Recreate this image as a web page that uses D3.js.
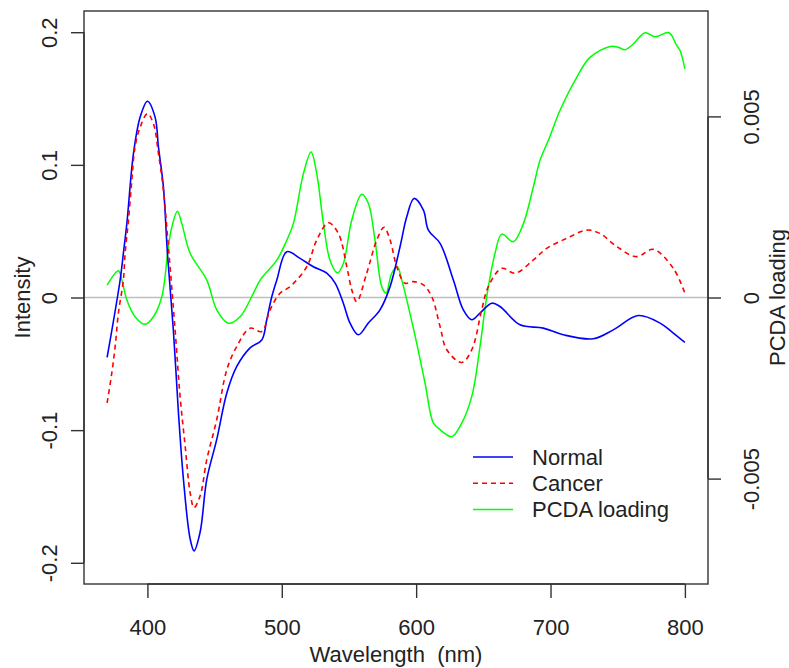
<!DOCTYPE html>
<html>
<head>
<meta charset="utf-8">
<script src="https://cdn.jsdelivr.net/npm/d3@7"></script>
<style>
  body { margin: 0; background: #fff; }
  svg text { font-family: "Liberation Sans", Arial, sans-serif; fill: #222; }
</style>
</head>
<body>
<svg></svg>
<script>
// ---- data ----
var normalWl  = [370,379.7,382.1,384.7,389.6,394.6,400,405.7,408.2,411.9,414.9,419.3,423.1,426.8,431.8,434.7,439.2,444.2,451.6,459.1,466.5,476.4,485.1,488.8,492.6,496.3,503.7,513.6,523.5,533.5,539.7,545.8,550.8,557,564.4,573.1,580.6,588,593,598.4,605.4,609.1,617.8,627.7,635.1,641.4,647.5,656.3,662.4,677.3,694.6,709.5,731.8,746.7,765.3,781.5,791.4,800];
var normalVal = [-0.0452,0.0132,0.0333,0.0559,0.1085,0.136,0.148,0.136,0.1135,0.0834,0.0333,-0.0245,-0.087,-0.137,-0.182,-0.191,-0.177,-0.137,-0.107,-0.072,-0.052,-0.038,-0.032,-0.0168,0.0007,0.0132,0.0345,0.0295,0.0232,0.0183,0.0108,-0.0043,-0.0193,-0.0281,-0.0193,-0.0093,0.0082,0.0383,0.0608,0.0747,0.0659,0.0508,0.0408,0.0132,-0.0093,-0.0168,-0.0118,-0.0043,-0.0068,-0.0206,-0.0231,-0.0281,-0.0311,-0.0244,-0.0136,-0.0193,-0.0268,-0.0339];

var cancerWl  = [370,373.5,376,378.4,382.1,383.4,385.9,388.4,390.8,394.6,400,404.5,408.2,411.9,415.6,420.6,424.3,428.1,431.8,434.7,439.2,444.2,451.6,459.1,466.5,476.4,485.1,491.3,498.7,506.2,518.6,526,534.7,542.1,548.4,552.1,555.8,563.2,570.7,576.1,580.6,585.6,591.7,597.9,605.4,611.6,617.8,622.8,633.9,641.4,648.8,653.7,663.7,673.6,687.2,697.2,712.1,726.9,736.8,749.3,764.1,776.5,791.4,800];
var cancerVal = [-0.0795,-0.0569,-0.0369,-0.0118,0.0132,0.0333,0.0583,0.0884,0.1135,0.1285,0.1386,0.131,0.1085,0.0809,0.0383,-0.0244,-0.0745,-0.1121,-0.1471,-0.1584,-0.1497,-0.1221,-0.092,-0.0544,-0.0369,-0.0231,-0.0256,-0.0093,0.0032,0.0082,0.0232,0.0433,0.0563,0.0483,0.0232,0.0057,-0.0031,0.0183,0.0433,0.0529,0.0433,0.0232,0.0108,0.012,0.0095,0.0007,-0.0219,-0.0394,-0.049,-0.0394,-0.0093,0.0082,0.022,0.0183,0.0283,0.0371,0.0446,0.0508,0.0483,0.0383,0.0308,0.0363,0.022,0.0032];

var loadingWl  = [370,378.4,381,384.7,390.8,398.3,404.5,410.7,415.6,418.2,422.3,425.6,431.8,444.2,451.6,460.3,469,478.9,483.9,496.3,503.7,508.6,516.1,521.8,526,531,535.9,541.4,545.8,552.1,559.5,564.4,569.4,574.4,577.6,581.8,586,589.3,594.2,600.4,606.6,612.8,617.8,626.5,633.9,641.4,647.5,652.5,658.7,663.7,672.3,679.8,687.2,692.2,698.4,707.1,719.5,729.4,744.3,750.4,755.4,761.6,770.3,777.8,788.2,793.9,796.4,800];
var loadingVal = [0.00034,0.00074,0.00048,-0.00007,-0.00053,-0.00074,-0.00053,0.00002,0.0014,0.00195,0.00238,0.00204,0.00122,0.00048,-0.00034,-0.00071,-0.00053,0.00012,0.00048,0.00103,0.00158,0.00204,0.00342,0.00402,0.00342,0.00204,0.00103,0.00068,0.00094,0.00214,0.00285,0.0026,0.00158,0.0003,0.00012,0.00067,0.00085,0.00048,-0.00025,-0.00126,-0.00236,-0.00346,-0.00365,-0.00384,-0.00347,-0.00273,-0.00136,0.00002,0.00122,0.00175,0.00154,0.00204,0.00305,0.00379,0.00434,0.00517,0.00608,0.00663,0.00693,0.00691,0.00684,0.007,0.00731,0.0072,0.00731,0.00696,0.00682,0.00631];

var xTicks = [400,500,600,700,800];
var yTicks = [-0.2,-0.1,0,0.1,0.2];
var yTickLabels = ["-0.2","-0.1","0","0.1","0.2"];
var rTicks = [-0.005,0,0.005];
var rTickLabels = ["-0.005","0","0.005"];

var legendNames = ["Normal","Cancer","PCDA loading"];

// ---- layout ----
var screen = {width:789, height:668};
var box = {left:84, right:708, top:11, bottom:584};

var svg = d3.select("svg")
    .attr("width",screen.width)
    .attr("height",screen.height);

var xScale = d3.scaleLinear()
    .domain([352.8,817.2])
    .range([box.left,box.right]);

var yScale = d3.scaleLinear()
    .domain([-0.216,0.216])
    .range([box.bottom,box.top]);

var rScale = d3.scaleLinear()
    .domain([-0.00791,0.00791])
    .range([box.bottom,box.top]);

var zip = function(xs, ys) { return xs.map(function(x,i){ return [x, ys[i]]; }); };

//zero reference line
svg.append("line")
    .attr("x1",box.left).attr("x2",box.right)
    .attr("y1",yScale(0)).attr("y2",yScale(0))
    .attr("stroke","#bebebe")
    .attr("stroke-width",1.6);

var curves = svg.append("g").classed("curves",true);

var leftLine = d3.line()
    .x(function(d){ return xScale(d[0]); })
    .y(function(d){ return yScale(d[1]); })
    .curve(d3.curveCatmullRom.alpha(0.5));

var rightLine = d3.line()
    .x(function(d){ return xScale(d[0]); })
    .y(function(d){ return rScale(d[1]); })
    .curve(d3.curveCatmullRom.alpha(0.5));

curves.append("path")
    .datum(zip(loadingWl,loadingVal))
    .attr("d",rightLine)
    .attr("fill","none")
    .attr("stroke","#00ff00")
    .attr("stroke-width",1.5);

curves.append("path")
    .datum(zip(normalWl,normalVal))
    .attr("d",leftLine)
    .attr("fill","none")
    .attr("stroke","#0000ff")
    .attr("stroke-width",1.6);

curves.append("path")
    .datum(zip(cancerWl,cancerVal))
    .attr("d",leftLine)
    .attr("fill","none")
    .attr("stroke","#ff0000")
    .attr("stroke-width",1.6)
    .attr("stroke-dasharray","5,4");

// ---- axes ----
var axisColor = "#333";
var fontSize = "22px";

var styleAxis = function(g)
{
    g.select(".domain").attr("stroke",axisColor).attr("stroke-width",1.4);
    g.selectAll(".tick line").attr("stroke",axisColor).attr("stroke-width",1.4);
    g.selectAll(".tick text").attr("fill","#222").style("font-size",fontSize)
        .style("font-family","'Liberation Sans', Arial, sans-serif");
}

var xAxis = d3.axisBottom(xScale).tickValues(xTicks).tickSize(14).tickSizeOuter(0).tickPadding(0)
    .tickFormat(d3.format("d"));
svg.append("g")
    .attr("transform","translate(0,"+box.bottom+")")
    .call(xAxis)
    .call(styleAxis)
    .call(function(g){
        g.select(".domain").attr("d","M"+xScale(400)+",0H"+xScale(800));
        g.selectAll(".tick text").attr("y",51).attr("dy",null);
    });

var yAxis = d3.axisLeft(yScale).tickValues(yTicks).tickSize(13).tickSizeOuter(0)
    .tickFormat(function(d,i){ return yTickLabels[i]; });
svg.append("g")
    .attr("transform","translate("+box.left+",0)")
    .call(yAxis)
    .call(styleAxis)
    .call(function(g){
        g.select(".domain").attr("d","M0,"+yScale(-0.2)+"V"+yScale(0.2));
        g.selectAll(".tick text")
            .attr("x",null).attr("dy",null)
            .attr("text-anchor","middle")
            .attr("transform","translate(-27,0) rotate(-90)");
    });

var rAxis = d3.axisRight(rScale).tickValues(rTicks).tickSize(13).tickSizeOuter(0)
    .tickFormat(function(d,i){ return rTickLabels[i]; });
svg.append("g")
    .attr("transform","translate("+box.right+",0)")
    .call(rAxis)
    .call(styleAxis)
    .call(function(g){
        g.select(".domain").attr("d","M0,"+rScale(-0.005)+"V"+rScale(0.005));
        g.selectAll(".tick text")
            .attr("x",null).attr("dy",null)
            .attr("text-anchor","middle")
            .attr("transform","translate(51,0) rotate(-90)");
    });

//plot box
svg.append("rect")
    .attr("x",box.left).attr("y",box.top)
    .attr("width",box.right-box.left).attr("height",box.bottom-box.top)
    .attr("fill","none")
    .attr("stroke",axisColor)
    .attr("stroke-width",1.4);

// ---- labels ----
var labels = svg.append("g").style("font-size",fontSize);

labels.append("text")
    .text("Wavelength  (nm)")
    .attr("xml:space","preserve")
    .style("white-space","pre")
    .attr("text-anchor","middle")
    .attr("x",(box.left+box.right)/2)
    .attr("y",662);

labels.append("text")
    .text("Intensity")
    .attr("text-anchor","middle")
    .attr("transform","translate(30,"+yScale(0)+") rotate(-90)");

labels.append("text")
    .text("PCDA loading")
    .attr("text-anchor","middle")
    .attr("transform","translate(785,"+yScale(0)+") rotate(-90)");

// ---- legend ----
var legendColors = ["#0000ff","#ff0000","#00ff00"];
var legendDash = [null,"5,4",null];
var legend = svg.append("g")
    .attr("transform","translate(473,457)");

var items = legend.selectAll("g")
    .data(legendNames)
    .enter()
    .append("g")
    .attr("transform",function(d,i){ return "translate(0,"+(i*26.3)+")"; });

items.append("line")
    .attr("x1",0).attr("x2",40)
    .attr("stroke",function(d,i){ return legendColors[i]; })
    .attr("stroke-width",1.5)
    .attr("stroke-dasharray",function(d,i){ return legendDash[i]; });

items.append("text")
    .text(function(d){ return d; })
    .attr("x",59)
    .attr("dy","0.35em")
    .style("font-size",fontSize);
</script>
</body>
</html>
